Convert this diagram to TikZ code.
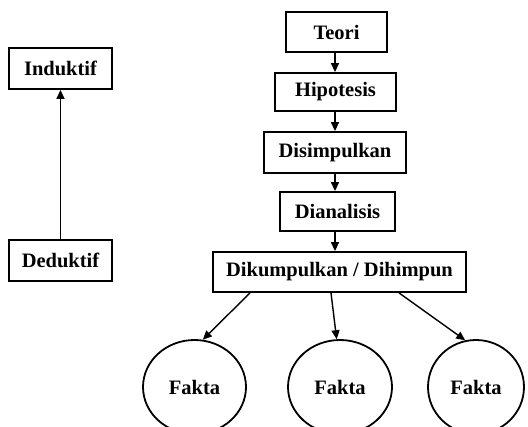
\documentclass[tikz,border=0pt]{standalone}
\usepackage{fontspec}
\setmainfont{Liberation Serif}
\usetikzlibrary{arrows.meta,shapes.geometric}
\begin{document}
\begin{tikzpicture}[x=1pt,y=-1pt,
  box/.style={draw,line width=1.8pt,rectangle,inner sep=0pt,font=\fontsize{20.5}{24}\selectfont\bfseries},
  fakta/.style={draw,line width=1.8pt,ellipse,inner sep=0pt,font=\fontsize{20.5}{24}\selectfont\bfseries},
  arr/.style={line width=1.4pt,-{Triangle[length=9pt,width=8pt]}}]
\useasboundingbox (0,0) rectangle (528,427);
\node[box,minimum width=103pt,minimum height=41pt] (ind) at (60.5,68.5) {Induktif};
\node[box,minimum width=103pt,minimum height=41pt] (ded) at (60.5,260.5) {Deduktif};
\node[box,minimum width=101pt,minimum height=40pt] (teori) at (336.5,32) {Teori};
\node[box,minimum width=121pt,minimum height=38pt] (hipo) at (335.5,92) {Hipotesis};
\node[box,minimum width=142pt,minimum height=41pt] (disim) at (335,152.5) {Disimpulkan};
\node[box,minimum width=115pt,minimum height=39pt] (dian) at (337.5,211.5) {Dianalisis};
\node[box,minimum width=253pt,minimum height=40pt] (dik) at (339.5,272) {Dikumpulkan / Dihimpun};
\node[fakta,minimum width=103pt,minimum height=94pt] (f1) at (194.5,387) {Fakta};
\node[fakta,minimum width=104pt,minimum height=94pt] (f2) at (340,387) {Fakta};
\node[fakta,minimum width=96pt,minimum height=94pt] (f3) at (476,387) {Fakta};
\draw[arr] (ded.north) -- (ind.south);
\draw[arr] (teori.south -| 335,0) -- (hipo.north -| 335,0);
\draw[arr] (hipo.south -| 335,0) -- (disim.north -| 335,0);
\draw[arr] (disim.south -| 335,0) -- (dian.north -| 335,0);
\draw[arr] (dian.south -| 335,0) -- (dik.north -| 335,0);
\draw[arr] ([xshift=-89.5pt]dik.south) -- (f1.80);
\draw[arr] ([xshift=-8.5pt]dik.south) -- (f2.94);
\draw[arr] ([xshift=59.5pt]dik.south) -- (f3.103);
\end{tikzpicture}
\end{document}
